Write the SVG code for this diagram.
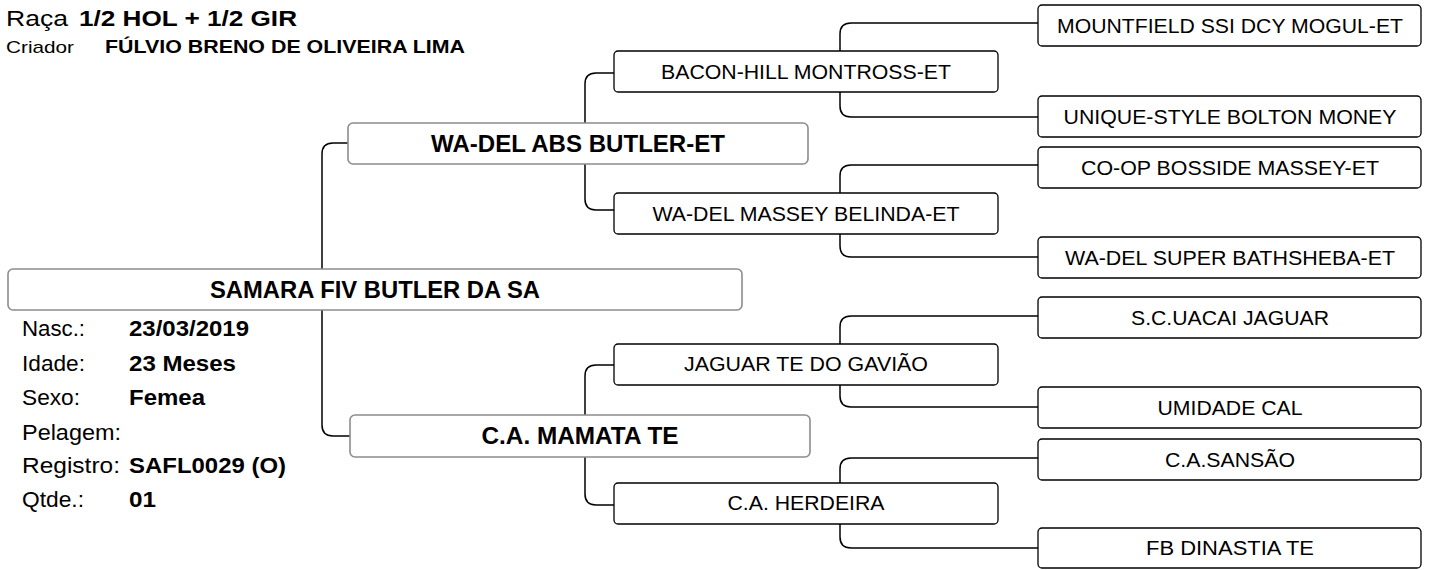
<svg xmlns="http://www.w3.org/2000/svg" width="1430" height="570" viewBox="0 0 1430 570">
<style>
text{font-family:"Liberation Sans",Arial,sans-serif;fill:#000}
.hdr{font-size:22px}
.hdrb{font-size:22px;font-weight:bold}
.crl{font-size:17px}
.crb{font-size:17.5px;font-weight:bold}
.lbl{font-size:21.5px}
.val{font-size:21.5px;font-weight:bold}
.bx1{fill:#fff;stroke:#8c8c8c;stroke-width:1.6}
.bx2{fill:#fff;stroke:#000;stroke-width:1.3}
.t1{font-size:23px;font-weight:bold;text-anchor:middle}
.t2{font-size:20.5px;text-anchor:middle}
.con{fill:none;stroke:#000;stroke-width:1.5}
</style>
<rect width="1430" height="570" fill="#fff"/>
<g id="header">
<text class="hdr" x="6" y="26" textLength="62" lengthAdjust="spacingAndGlyphs">Raça</text>
<text class="hdrb" x="79" y="26" textLength="218" lengthAdjust="spacingAndGlyphs">1/2 HOL + 1/2 GIR</text>
<text class="crl" x="6" y="53" textLength="68" lengthAdjust="spacingAndGlyphs">Criador</text>
<text class="crb" x="105" y="53" textLength="360" lengthAdjust="spacingAndGlyphs">FÚLVIO BRENO DE OLIVEIRA LIMA</text>
</g>
<g id="connectors">
<path class="con" d="M348,143 H333 Q322,143 322,154 V425 Q322,436 333,436 H350"/>
<path class="con" d="M585,123 V84 Q585,73 596,73 H614"/>
<path class="con" d="M585,164 V199 Q585,210 596,210 H614"/>
<path class="con" d="M585,415 V376 Q585,365 596,365 H614"/>
<path class="con" d="M585,457 V494 Q585,505 596,505 H614"/>
<path class="con" d="M840,51 V34 Q840,23 851,23 H1038"/>
<path class="con" d="M840,92 V106 Q840,117 851,117 H1038"/>
<path class="con" d="M840,193 V176 Q840,165 851,165 H1038"/>
<path class="con" d="M840,234 V246 Q840,257 851,257 H1038"/>
<path class="con" d="M840,344 V327 Q840,316 851,316 H1038"/>
<path class="con" d="M840,385 V396 Q840,407 851,407 H1038"/>
<path class="con" d="M840,483 V469 Q840,458 851,458 H1038"/>
<path class="con" d="M840,524 V537 Q840,548 851,548 H1038"/>
</g>
<g id="root">
<rect class="bx1" x="8" y="269" width="734" height="41" rx="5"/>
<text class="t1" x="375" y="298" textLength="330" lengthAdjust="spacingAndGlyphs">SAMARA FIV BUTLER DA SA</text>
</g>
<g id="info">
<text class="lbl" x="22" y="336" textLength="63" lengthAdjust="spacingAndGlyphs">Nasc.:</text>
<text class="lbl" x="22" y="371" textLength="63" lengthAdjust="spacingAndGlyphs">Idade:</text>
<text class="lbl" x="22" y="405" textLength="58" lengthAdjust="spacingAndGlyphs">Sexo:</text>
<text class="lbl" x="22" y="440" textLength="99" lengthAdjust="spacingAndGlyphs">Pelagem:</text>
<text class="lbl" x="22" y="473" textLength="98" lengthAdjust="spacingAndGlyphs">Registro:</text>
<text class="lbl" x="22" y="507" textLength="62" lengthAdjust="spacingAndGlyphs">Qtde.:</text>
<text class="val" x="129" y="336" textLength="120" lengthAdjust="spacingAndGlyphs">23/03/2019</text>
<text class="val" x="129" y="371" textLength="107" lengthAdjust="spacingAndGlyphs">23 Meses</text>
<text class="val" x="129" y="405" textLength="76" lengthAdjust="spacingAndGlyphs">Femea</text>
<text class="val" x="129" y="473" textLength="157" lengthAdjust="spacingAndGlyphs">SAFL0029 (O)</text>
<text class="val" x="129" y="507" textLength="27" lengthAdjust="spacingAndGlyphs">01</text>
</g>
<g id="sire">
<rect class="bx1" x="348" y="123" width="460" height="41" rx="5"/>
<text class="t1" x="578" y="152" textLength="294" lengthAdjust="spacingAndGlyphs">WA-DEL ABS BUTLER-ET</text>
</g>
<g id="dam">
<rect class="bx1" x="350" y="415" width="460" height="42" rx="5"/>
<text class="t1" x="580" y="444" textLength="197" lengthAdjust="spacingAndGlyphs">C.A. MAMATA TE</text>
</g>
<g id="ss">
<rect class="bx2" x="614" y="51" width="384" height="41" rx="4"/>
<text class="t2" x="806" y="79" textLength="290" lengthAdjust="spacingAndGlyphs">BACON-HILL MONTROSS-ET</text>
</g>
<g id="sd">
<rect class="bx2" x="614" y="193" width="384" height="41" rx="4"/>
<text class="t2" x="806" y="221" textLength="307" lengthAdjust="spacingAndGlyphs">WA-DEL MASSEY BELINDA-ET</text>
</g>
<g id="ds">
<rect class="bx2" x="614" y="344" width="384" height="41" rx="4"/>
<text class="t2" x="806" y="371" textLength="244" lengthAdjust="spacingAndGlyphs">JAGUAR TE DO GAVIÃO</text>
</g>
<g id="dd">
<rect class="bx2" x="614" y="483" width="384" height="41" rx="4"/>
<text class="t2" x="806" y="510" textLength="157" lengthAdjust="spacingAndGlyphs">C.A. HERDEIRA</text>
</g>
<g id="sss">
<rect class="bx2" x="1038" y="5" width="383" height="41" rx="4"/>
<text class="t2" x="1230" y="33" textLength="346" lengthAdjust="spacingAndGlyphs">MOUNTFIELD SSI DCY MOGUL-ET</text>
</g>
<g id="ssd">
<rect class="bx2" x="1038" y="96" width="383" height="41" rx="4"/>
<text class="t2" x="1230" y="124" textLength="333" lengthAdjust="spacingAndGlyphs">UNIQUE-STYLE BOLTON MONEY</text>
</g>
<g id="sds">
<rect class="bx2" x="1038" y="147" width="383" height="41" rx="4"/>
<text class="t2" x="1230" y="175" textLength="298" lengthAdjust="spacingAndGlyphs">CO-OP BOSSIDE MASSEY-ET</text>
</g>
<g id="sdd">
<rect class="bx2" x="1038" y="237" width="383" height="41" rx="4"/>
<text class="t2" x="1230" y="265" textLength="330" lengthAdjust="spacingAndGlyphs">WA-DEL SUPER BATHSHEBA-ET</text>
</g>
<g id="dss">
<rect class="bx2" x="1038" y="297" width="383" height="41" rx="4"/>
<text class="t2" x="1230" y="325" textLength="198" lengthAdjust="spacingAndGlyphs">S.C.UACAI JAGUAR</text>
</g>
<g id="dsd">
<rect class="bx2" x="1038" y="387" width="383" height="41" rx="4"/>
<text class="t2" x="1230" y="415" textLength="145" lengthAdjust="spacingAndGlyphs">UMIDADE CAL</text>
</g>
<g id="dds">
<rect class="bx2" x="1038" y="439" width="383" height="41" rx="4"/>
<text class="t2" x="1230" y="467" textLength="130" lengthAdjust="spacingAndGlyphs">C.A.SANSÃO</text>
</g>
<g id="ddd">
<rect class="bx2" x="1038" y="528" width="383" height="40" rx="4"/>
<text class="t2" x="1230" y="555" textLength="168" lengthAdjust="spacingAndGlyphs">FB DINASTIA TE</text>
</g>
</svg>
